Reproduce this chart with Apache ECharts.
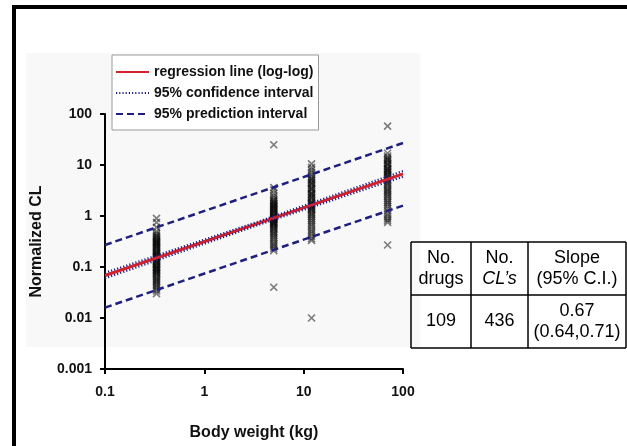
<!DOCTYPE html>
<html>
<head>
<meta charset="utf-8">
<script src="https://cdn.jsdelivr.net/npm/echarts@6/dist/echarts.min.js"></script>
<style>
  html, body { margin: 0; padding: 0; background: #fff; }
  #chart { width: 627px; height: 446px; }
</style>
</head>
<body>
<div id="chart"></div>
<script>
// body weights of the four species (kg)
var weights = [0.33, 5, 12, 70];
// normalized CL (x marks)
var clRat = [0.9, 0.75, 0.6, 0.5, 0.45, 0.42, 0.4, 0.38, 0.36, 0.35, 0.33, 0.32, 0.31, 0.3, 0.29, 0.28, 0.27, 0.26, 0.25, 0.24, 0.23, 0.22, 0.21, 0.2, 0.19, 0.185, 0.18, 0.17, 0.165, 0.16, 0.155, 0.15, 0.145, 0.14, 0.135, 0.13, 0.125, 0.12, 0.115, 0.11, 0.105, 0.1, 0.097, 0.095, 0.09, 0.087, 0.085, 0.08, 0.077, 0.075, 0.07, 0.066, 0.062, 0.058, 0.055, 0.052, 0.049, 0.046, 0.043, 0.04, 0.037, 0.034, 0.03];
var clMonkey = [25, 3.6, 3.2, 2.8, 2.5, 2.3, 2.1, 2.0, 1.9, 1.8, 1.75, 1.7, 1.6, 1.55, 1.5, 1.45, 1.4, 1.35, 1.3, 1.25, 1.2, 1.15, 1.1, 1.05, 1.0, 0.97, 0.95, 0.92, 0.9, 0.87, 0.85, 0.83, 0.8, 0.77, 0.74, 0.72, 0.7, 0.67, 0.64, 0.6, 0.57, 0.54, 0.5, 0.47, 0.44, 0.41, 0.38, 0.35, 0.32, 0.29, 0.27, 0.25, 0.23, 0.21, 0.04];
var clDog = [10.5, 9, 8, 7.2, 6.5, 6, 5.5, 5.2, 5, 4.6, 4.4, 4.2, 3.9, 3.6, 3.4, 3.3, 3.0, 2.8, 2.7, 2.6, 2.4, 2.3, 2.2, 2.0, 1.9, 1.8, 1.75, 1.7, 1.6, 1.55, 1.5, 1.4, 1.35, 1.3, 1.2, 1.12, 1.05, 0.98, 0.9, 0.82, 0.75, 0.68, 0.62, 0.55, 0.5, 0.45, 0.4, 0.36, 0.33, 0.01];
var clHuman = [58, 17, 15, 14, 13, 12.5, 12, 11, 10.5, 10, 9.3, 8.6, 8.3, 8, 7.5, 7.2, 7, 6.5, 6.2, 6, 5.6, 5.2, 4.9, 4.6, 4.3, 4, 3.7, 3.4, 3.2, 3.0, 2.8, 2.6, 2.4, 2.2, 2.0, 1.85, 1.7, 1.55, 1.4, 1.25, 1.1, 1.0, 0.9, 0.82, 0.75, 0.27];

// fitted lines
var lineX = [0.1, 100];
var regY = [0.068, 6.7];
var ciX = [0.1, 4, 100];
var ciUpperY = [0.077, 0.85, 7.6];
var ciLowerY = [0.060, 0.73, 5.9];
var piUpperY = [0.27, 27];
var piLowerY = [0.016, 1.6];

// ticks
var xTickValues = [0.1, 1, 10, 100];
var xTickLabels = ['0.1', '1', '10', '100'];
var yTickValues = [0.001, 0.01, 0.1, 1, 10, 100];
var yTickLabels = ['0.001', '0.01', '0.1', '1', '10', '100'];

// table
var tableHead = [['No.', 'drugs'], ['No.', 'CL\u2019s'], ['Slope', '(95% C.I.)']];
var tableRow = [['109'], ['436'], ['0.67', '(0.64,0.71)']];

var FONT = '"Liberation Sans", Arial, sans-serif';
var NAVY = '#1f1f80';
var RED = '#d3212d';

function pairs(xs, ys) {
    var out = [];
    for (var i = 0; i < xs.length; i++) out.push([xs[i], ys[i]]);
    return out;
}
function tickLabel(values, labels) {
    return function (v) {
        for (var i = 0; i < values.length; i++) {
            if (Math.abs(Math.log10(v) - Math.log10(values[i])) < 1e-6) return labels[i];
        }
        return '';
    };
}

var scatterData = [];
[clRat, clMonkey, clDog, clHuman].forEach(function (arr, i) {
    arr.forEach(function (v) { scatterData.push([weights[i], v]); });
});

// table drawn as graphic (lines + text)
var tCols = [411, 471, 528, 626];
var tRows = [242, 295, 348];
var graphics = [
    // faint photo background of the plot
    { type: 'rect', z: -10, shape: { x: 26, y: 53, width: 394, height: 294 }, style: { fill: '#f8f8f8' } },
    // outer frame
    { type: 'rect', z: 100, shape: { x: 14, y: 7, width: 640, height: 460 }, style: { fill: 'none', stroke: '#000', lineWidth: 4 } }
];
tCols.forEach(function (x) {
    graphics.push({ type: 'line', shape: { x1: x, y1: tRows[0], x2: x, y2: tRows[2] }, style: { stroke: '#000', lineWidth: 1.5 } });
});
tRows.forEach(function (y) {
    graphics.push({ type: 'line', shape: { x1: tCols[0], y1: y, x2: tCols[3], y2: y }, style: { stroke: '#000', lineWidth: 1.5 } });
});
function cellText(lines, col, row, italicLine) {
    var cx = (tCols[col] + tCols[col + 1]) / 2;
    var cy = (tRows[row] + tRows[row + 1]) / 2;
    var lh = 21;
    lines.forEach(function (s, k) {
        graphics.push({
            type: 'text',
            style: {
                x: cx, y: cy + (k - (lines.length - 1) / 2) * lh,
                text: s, align: 'center', verticalAlign: 'middle',
                font: (italicLine === k ? 'italic ' : '') + '18px ' + FONT,
                fill: '#000'
            }
        });
    });
}
tableHead.forEach(function (lines, c) { cellText(lines, c, 0, c === 1 ? 1 : -1); });
tableRow.forEach(function (lines, c) { cellText(lines, c, 1, -1); });

var chart = echarts.init(document.getElementById('chart'));
var option = {
    animation: false,
    backgroundColor: '#fff',
    grid: { left: 105, right: 224, top: 114, bottom: 76 },
    legend: {
        left: 112, top: 55,
        orient: 'vertical',
        selectedMode: false,
        backgroundColor: '#fff',
        borderColor: '#999',
        borderWidth: 1,
        padding: [10, 5, 9, 3],
        itemWidth: 33, itemHeight: 14, itemGap: 7,
        itemStyle: { opacity: 0 },
        textStyle: { fontFamily: FONT, fontWeight: 'bold', fontSize: 14, color: '#111' },
        data: ['regression line (log-log)', '95% confidence interval', '95% prediction interval']
    },
    xAxis: {
        type: 'log', logBase: 10, min: 0.1, max: 100,
        name: 'Body weight (kg)', nameLocation: 'middle', nameGap: 56,
        nameTextStyle: { fontFamily: FONT, fontWeight: 'bold', fontSize: 16, color: '#111' },
        axisLine: { lineStyle: { color: '#000', width: 2 } },
        axisTick: { show: true, length: 5, lineStyle: { color: '#000', width: 2 } },
        axisLabel: { margin: 16, fontFamily: FONT, fontWeight: 'bold', fontSize: 14, color: '#111', formatter: tickLabel(xTickValues, xTickLabels) },
        splitLine: { show: false }
    },
    yAxis: {
        type: 'log', logBase: 10, min: 0.001, max: 100,
        name: 'Normalized CL', nameLocation: 'middle', nameGap: 60,
        nameTextStyle: { fontFamily: FONT, fontWeight: 'bold', fontSize: 16, color: '#111' },
        axisLine: { lineStyle: { color: '#000', width: 2 } },
        axisTick: { show: true, length: 5, lineStyle: { color: '#000', width: 2 } },
        axisLabel: { margin: 13, fontFamily: FONT, fontWeight: 'bold', fontSize: 14, color: '#111', formatter: tickLabel(yTickValues, yTickLabels) },
        splitLine: { show: false }
    },
    graphic: graphics,
    series: [
        {
            name: 'CL', type: 'scatter', z: 2,
            symbol: 'path://M0,0L10,10M10,0L0,10', symbolSize: 7,
            itemStyle: { color: 'none', borderColor: 'rgba(10,10,10,0.65)', borderWidth: 1.6 },
            data: scatterData
        },
        {
            name: '95% prediction interval', type: 'line', symbol: 'none', z: 3,
            lineStyle: { color: NAVY, width: 2.5, type: [7, 4] },
            itemStyle: { color: NAVY },
            data: pairs(lineX, piUpperY)
        },
        {
            name: '95% prediction interval', type: 'line', symbol: 'none', z: 3,
            lineStyle: { color: NAVY, width: 2.5, type: [7, 4] },
            itemStyle: { color: NAVY },
            data: pairs(lineX, piLowerY)
        },
        {
            name: 'regression line (log-log)', type: 'line', symbol: 'none', z: 4,
            lineStyle: { color: RED, width: 3 },
            itemStyle: { color: RED },
            data: pairs(lineX, regY)
        },
        {
            name: '95% confidence interval', type: 'line', symbol: 'none', z: 5,
            lineStyle: { color: NAVY, width: 2.2, type: [1.2, 2] },
            itemStyle: { color: NAVY },
            data: pairs(ciX, ciUpperY)
        },
        {
            name: '95% confidence interval', type: 'line', symbol: 'none', z: 5,
            lineStyle: { color: NAVY, width: 2.2, type: [1.2, 2] },
            itemStyle: { color: NAVY },
            data: pairs(ciX, ciLowerY)
        }
    ]
};
chart.setOption(option);
</script>
</body>
</html>
